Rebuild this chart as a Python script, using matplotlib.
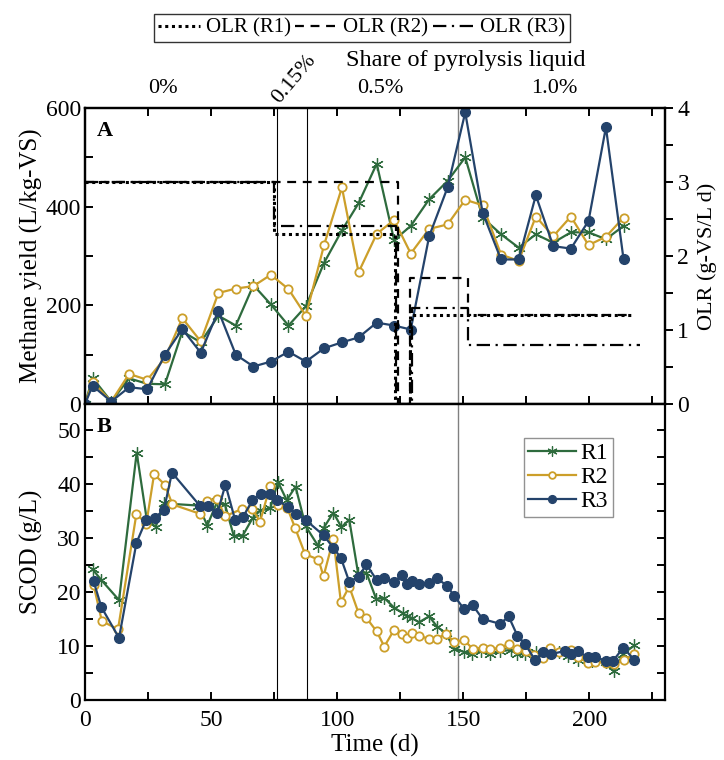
import matplotlib
matplotlib.use("Agg")
import matplotlib.pyplot as plt
from matplotlib.ticker import MultipleLocator
from matplotlib.lines import Line2D

plt.rcParams['font.family'] = ['Liberation Serif', 'DejaVu Serif']
plt.rcParams['mathtext.fontset'] = 'stix'

# ---------------- data ----------------
# Panel A: methane yield
tA = [0, 3, 10.4, 17.5, 24.7, 31.7, 38.6, 45.9, 52.9, 59.8, 66.8, 73.7, 80.7, 87.6,
      94.8, 101.9, 108.5, 115.7, 122.6, 129.2, 136.5, 143.8, 150.8, 157.7, 165, 172,
      178.8, 185.7, 192.7, 199.7, 206.6, 213.6]
ch4_r1 = [0, 53, 5, 52, 41, 40, 147, 125, 179, 159, 241, 202, 159, 198, 286, 352, 407,
          487, 332, 361, 415, 452, 500, 378, 344, 317, 344, 327, 348, 348, 334, 361]
ch4_r2 = [0, 45, 5, 61, 49, 93, 174, 127, 225, 234, 239, 262, 233, 179, 322, 439, 267,
          345, 373, 305, 355, 364, 414, 403, 303, 290, 380, 340, 380, 322, 339, 378]
ch4_r3 = [0, 37, 5, 34, 30, 100, 152, 104, 189, 100, 76, 86, 106, 86, 113, 125, 135,
          165, 159, 151, 340, 439, 591, 388, 293, 293, 423, 320, 315, 371, 561, 293]

# OLR steps (value holds from t[i] to t[i+1])
olr_t_r1 = [0, 75, 123, 129, 217]
olr_v_r1 = [3, 2.3, 0, 1.2, 1.2]
olr_t_r2 = [0, 124, 129, 152, 217]
olr_v_r2 = [3, 0, 1.7, 1.2, 1.2]
olr_t_r3 = [0, 75, 123.5, 129.5, 152, 220]
olr_v_r3 = [3, 2.4, 0, 1.3, 0.8, 0.8]

# Panel B: SCOD
t1b = [3, 6.5, 13.5, 20.5, 24.5, 28, 31.5, 45, 48.5, 52.5, 55.5, 59, 62.5, 66.5, 69.5,
       73.5, 76.5, 80, 83.5, 87.5, 92.5, 94.7, 98.5, 101.7, 104.8, 108.3, 111.6, 115.5,
       118.7, 122.6, 126, 127.6, 129.5, 132.5, 136.5, 139.6, 143, 146.5, 150.4, 153.5,
       157, 160.5, 164.7, 168.9, 171.5, 174.5, 178.8, 182, 188, 191.4, 195.4, 201,
       206.6, 209.7, 213.5, 217.9]
y1b = [24.2, 22.2, 18.5, 45.8, 33.4, 32.1, 36.4, 36, 32.3, 36.8, 36.2, 30.4, 30.4, 33.7,
       35.1, 35.5, 40.4, 37.0, 39.5, 32.2, 28.5, 31.9, 34.7, 32.0, 33.4, 23.5, 23.6, 18.7,
       18.9, 17.1, 16.1, 15.5, 15.2, 14.4, 15.5, 13.6, 12.4, 9.5, 8.9, 8.5, 9.0, 8.5, 9.0,
       9.3, 8.5, 8.5, 8.8, 8.6, 8.8, 8.2, 7.5, 7.3, 7.0, 5.3, 8.6, 10.1]
t2b = [3.4, 6.7, 13.1, 20.4, 24.3, 27.4, 31.6, 34.7, 45.5, 48.4, 52.5, 55.4, 62.4, 66.4,
       69.4, 73.4, 76.6, 80.3, 83.3, 87.3, 92.6, 94.6, 98.5, 101.5, 104.8, 108.5, 111.6,
       115.7, 118.7, 122.6, 125.9, 127.6, 129.5, 132.5, 136.5, 139.6, 143.1, 146.4, 150.4,
       153.7, 157.7, 160.7, 164.7, 168, 171.5, 175, 178.2, 181.5, 184.6, 188, 192.7,
       195.4, 199.5, 202.4, 206.6, 209.9, 213.6, 217.9]
y2b = [21.3, 14.6, 13.1, 34.5, 32.6, 41.8, 39.9, 36.2, 34.5, 36.9, 37.3, 34.0, 35.4, 35.4,
       33.0, 39.6, 36.1, 35.5, 31.9, 27.0, 26.0, 22.9, 29.8, 18.1, 21.0, 16.1, 15.2, 12.7,
       9.9, 13.0, 12.3, 11.5, 12.4, 11.9, 11.3, 11.3, 12.3, 10.8, 11.1, 9.5, 9.7, 9.5, 9.6,
       10.4, 9.4, 9.0, 8.4, 7.7, 9.6, 8.8, 9.2, 8.0, 6.9, 7.1, 6.8, 6.7, 7.4, 8.5]
t3b = [3.4, 6.5, 13.5, 20.4, 24.3, 27.6, 31.3, 34.5, 45.5, 48.8, 52.5, 55.7, 59.5, 62.7,
       66.4, 69.7, 73.4, 76.3, 80.6, 83.6, 87.6, 94.6, 98.5, 101.5, 104.8, 108.5, 111.6,
       115.7, 118.7, 122.6, 125.7, 127.6, 129.5, 132.5, 136.5, 139.6, 143.5, 146.4, 150.4,
       153.7, 157.7, 164.7, 168, 171.5, 174.5, 178.5, 181.5, 184.8, 190.5, 192.7, 195.6,
       199.6, 202.4, 206.6, 209.5, 213.5, 217.9]
y3b = [22.0, 17.2, 11.5, 29.1, 33.4, 33.7, 35.2, 42.1, 36.0, 36.0, 34.6, 39.9, 33.4, 33.9,
       37.0, 38.1, 38.1, 37.0, 35.7, 34.5, 33.3, 30.5, 28.2, 26.3, 21.9, 22.8, 25.1, 22.2,
       22.5, 21.9, 23.1, 21.4, 22.0, 21.4, 21.6, 22.5, 21.2, 19.3, 16.8, 17.6, 15.0, 14.1,
       15.5, 11.9, 10.4, 7.4, 8.8, 8.5, 9.1, 8.5, 9.0, 7.9, 7.9, 7.3, 7.3, 9.7, 7.4]

share_pos = [31, 117, 186]
share_labels = ['0%', '0.5%', '1.0%']
phase_lines = [76, 88]
phase_line_grey = 148

# ---------------- styling ----------------
FS_TICK = 17
FS_LAB = 18
c1, c2, c3 = '#2e6b3d', '#cc9f2a', '#24436b'
st1 = dict(color=c1, marker=(6, 2, 0), ms=9, mew=0.9, lw=1.6, label='R1')
st2 = dict(color=c2, marker='o', ms=6, mfc='white', mew=1.3, lw=1.6, label='R2')
st3 = dict(color=c3, marker='o', ms=7, mfc=c3, lw=1.6, label='R3')

fig = plt.figure(figsize=(7.24, 7.6), dpi=100)
axA = fig.add_axes([0.1174, 0.4684, 0.801, 0.3895])
axB = fig.add_axes([0.1174, 0.0789, 0.801, 0.3895])

for ax in (axA, axB):
    for s in ax.spines.values():
        s.set_linewidth(1.6)
    ax.set_xlim(0, 230)

# Panel A
axA.plot(tA, ch4_r1, **st1)
axA.plot(tA, ch4_r2, **st2)
axA.plot(tA, ch4_r3, **st3)
axA.set_ylim(0, 600)
axA.yaxis.set_major_locator(MultipleLocator(200))
axA.yaxis.set_minor_locator(MultipleLocator(100))
axA.xaxis.set_major_locator(MultipleLocator(25))
axA.tick_params(axis='both', which='both', direction='in', labelsize=FS_TICK, width=1.4)
axA.tick_params(axis='x', which='both', top=True, bottom=True, labelbottom=False, length=6)
axA.tick_params(axis='y', which='both', length=6, pad=3)
axA.set_ylabel('Methane yield (L/kg-VS)', fontsize=FS_LAB, labelpad=2)
for xv in phase_lines:
    axA.axvline(xv, color='black', lw=0.8, zorder=0)
axA.axvline(phase_line_grey, color='#808080', lw=1.0, zorder=0)
axA.text(0.02, 0.955, 'A', transform=axA.transAxes, fontsize=16, fontweight='bold',
         va='top', ha='left')

ax2 = axA.twinx()
ax2.step(olr_t_r1, olr_v_r1, where='post', color='black', ls=(0, (1, 1.2)), lw=2.2)
ax2.step(olr_t_r2, olr_v_r2, where='post', color='black', ls=(0, (4, 3)), lw=1.6)
ax2.step(olr_t_r3, olr_v_r3, where='post', color='black', ls=(0, (6, 2.5, 1, 2.5)), lw=1.6)
ax2.set_ylim(0, 4)
ax2.yaxis.set_major_locator(MultipleLocator(1))
ax2.yaxis.set_minor_locator(MultipleLocator(0.5))
ax2.tick_params(axis='y', which='both', direction='out', labelsize=FS_TICK, width=1.4,
                length=6, pad=3)
ax2.set_ylabel('OLR (g-VS/L d)', fontsize=16, labelpad=6)
for s in ax2.spines.values():
    s.set_linewidth(1.6)

# top labels (share of pyrolysis liquid)
trans = axA.get_xaxis_transform()
for xp, lab in zip(share_pos, share_labels):
    axA.text(xp, 1.065, lab, transform=trans, ha='center', va='center', fontsize=16)
axA.text(83, 1.098, '0.15%', transform=trans, ha='center', va='center', fontsize=16,
         rotation=50, rotation_mode='anchor')
axA.text(151, 1.162, 'Share of pyrolysis liquid', transform=trans, ha='center',
         va='center', fontsize=17.5)

# figure legend for OLR
h = [Line2D([], [], color='black', ls=(0, (1, 1.2)), lw=2.2),
     Line2D([], [], color='black', ls=(0, (4, 3)), lw=1.6),
     Line2D([], [], color='black', ls=(0, (6, 2.5, 1, 2.5)), lw=1.6)]
lg = fig.legend(h, ['OLR (R1)', 'OLR (R2)', 'OLR (R3)'], loc='upper center',
                bbox_to_anchor=(0.5, 0.995), ncol=3, fontsize=15, frameon=True,
                fancybox=False, edgecolor='black', handlelength=2.0, columnspacing=0.2,
                handletextpad=0.3, borderpad=0.2)
lg.get_frame().set_linewidth(1.0)

# Panel B
axB.plot(t1b, y1b, **st1)
axB.plot(t2b, y2b, **st2)
axB.plot(t3b, y3b, **st3)
axB.set_ylim(0, 54.8)
axB.yaxis.set_major_locator(MultipleLocator(10))
axB.yaxis.set_minor_locator(MultipleLocator(5))
axB.xaxis.set_major_locator(MultipleLocator(50))
axB.xaxis.set_minor_locator(MultipleLocator(25))
axB.tick_params(axis='both', which='both', direction='in', labelsize=FS_TICK, width=1.4,
                length=6, pad=3)
axB.tick_params(axis='x', which='both', pad=7)
axB.tick_params(axis='y', which='both', right=True)
axB.tick_params(axis='x', which='both', top=False)
axB.set_ylabel('SCOD (g/L)', fontsize=FS_LAB, labelpad=10)
axB.set_xlabel('Time (d)', fontsize=FS_LAB, labelpad=2)
for xv in phase_lines:
    axB.axvline(xv, color='black', lw=0.8, zorder=0)
axB.axvline(phase_line_grey, color='#808080', lw=1.0, zorder=0)
axB.text(0.02, 0.955, 'B', transform=axB.transAxes, fontsize=16, fontweight='bold',
         va='top', ha='left')
lgB = axB.legend(loc='upper right', bbox_to_anchor=(0.91, 0.885), fontsize=17,
                 frameon=True, fancybox=False, edgecolor='#777777', handlelength=2.0,
                 handletextpad=0.2, borderpad=0.2, labelspacing=0.1, markerscale=0.8,
                 borderaxespad=0)
lgB.get_frame().set_linewidth(1.0)

fig.savefig('out.png', dpi=100)
